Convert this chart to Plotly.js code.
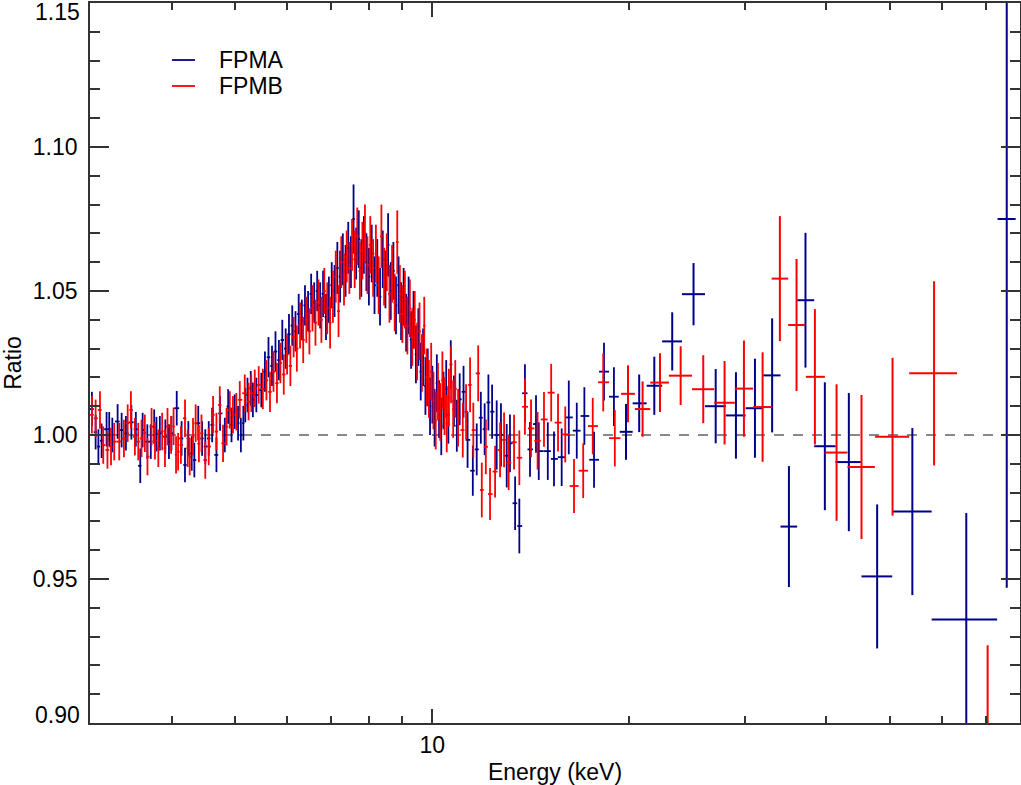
<!DOCTYPE html>
<html>
<head>
<meta charset="utf-8">
<script src="https://cdn.plot.ly/plotly-3.0.1.min.js"></script>
<style>
html,body{margin:0;padding:0;background:#fff;}
#chart{width:1021px;height:785px;}
</style>
</head>
<body>
<div id="chart"></div>
<script>
// ---------- FPMA (blue) finely binned, 3-19 keV ----------
const fpmaE = [
  3.02, 3.06, 3.09, 3.125, 3.18, 3.21, 3.245, 3.306, 3.353, 3.404,
  3.47, 3.525, 3.58, 3.61, 3.67, 3.715, 3.76, 3.79, 3.835, 3.91,
  3.96, 3.995, 4.07, 4.14, 4.19, 4.24, 4.29, 4.33, 4.39, 4.45,
  4.50, 4.555, 4.61, 4.68, 4.74, 4.82, 4.877, 4.935, 4.99, 5.05,
  5.10, 5.145, 5.18, 5.22, 5.28, 5.32, 5.385, 5.48, 5.55, 5.62,
  5.69, 5.76, 5.83, 5.90, 5.97, 6.04, 6.11, 6.18, 6.25, 6.32,
  6.39, 6.46, 6.53, 6.60, 6.67, 6.74, 6.81, 6.88, 6.95, 7.02,
  7.09, 7.16, 7.23, 7.30, 7.37, 7.44, 7.51, 7.58, 7.65, 7.72,
  7.79, 7.86, 7.93, 8.00, 8.08, 8.16, 8.24, 8.32, 8.40, 8.48,
  8.56, 8.64, 8.72, 8.80, 8.88, 8.96, 9.04, 9.12, 9.20, 9.28,
  9.36, 9.44, 9.52, 9.60, 9.68, 9.76, 9.84, 9.92, 10.00, 10.08,
  10.16, 10.24, 10.32, 10.40, 10.50, 10.58, 10.67, 10.79, 10.90, 11.01,
  11.16, 11.32, 11.53, 11.69, 11.86, 12.02, 12.18, 12.34, 12.54, 12.73,
  12.99, 13.14, 13.38, 13.58, 13.85, 14.10, 14.40, 14.54, 15.01, 15.34,
  15.76, 16.16, 16.62, 17.07, 17.66, 18.29, 18.94
];
const fpmaR = [
  1.009, 1.001, 0.996, 0.998, 1.002, 1.002, 1.000, 1.0047, 1.0017, 1.0006,
  1.0044, 1.002, 0.9893, 1.0017, 0.9977, 0.9977, 1.0029, 1.0003, 1.0006, 0.9994,
  0.9977, 1.0006, 1.0093, 0.9988, 0.9896, 0.9988, 0.9936, 0.9913, 1.0041, 0.9988,
  0.9960, 0.9988, 1.0035, 0.9931, 1.0075, 1.000, 1.0099, 1.0035, 1.0081, 1.0041,
  1.000, 1.0041, 1.0104, 1.0139, 1.0162, 1.0122, 1.0139, 1.0156, 1.022, 1.027,
  1.024, 1.029, 1.026, 1.033, 1.030, 1.035, 1.038, 1.036, 1.042, 1.040,
  1.045, 1.043, 1.049, 1.046, 1.050, 1.045, 1.049, 1.041, 1.047, 1.052,
  1.050, 1.058, 1.055, 1.061, 1.057, 1.065, 1.060, 1.075, 1.063, 1.068,
  1.058, 1.066, 1.060, 1.055, 1.063, 1.052, 1.058, 1.048, 1.061, 1.054,
  1.066, 1.050, 1.057, 1.045, 1.052, 1.043, 1.048, 1.039, 1.045, 1.033,
  1.040, 1.028, 1.034, 1.022, 1.027, 1.017, 1.020, 1.010, 1.014, 1.006,
  1.018, 1.009, 1.003, 1.012, 1.016, 1.007, 1.0245, 1.0118, 1.0032, 1.0124,
  1.015, 0.9983, 0.9876, 0.995, 1.006, 1.002, 1.0113, 1.0081, 1.000, 1.000,
  0.9928, 0.9971, 0.9763, 0.9684, 1.0145, 0.995, 1.0038, 0.9944, 0.9944, 0.9917,
  0.9923, 1.0061, 1.0015, 1.0066, 0.9914, 1.022, 1.0133
];
const fpmaErr = [
  0.006, 0.006, 0.006, 0.006, 0.006, 0.006, 0.006, 0.006, 0.006, 0.006,
  0.006, 0.006, 0.006, 0.006, 0.006, 0.006, 0.006, 0.006, 0.006, 0.006,
  0.006, 0.006, 0.006, 0.006, 0.006, 0.006, 0.006, 0.006, 0.006, 0.006,
  0.006, 0.006, 0.006, 0.006, 0.006, 0.006, 0.006, 0.006, 0.006, 0.006,
  0.006, 0.006, 0.006, 0.006, 0.006, 0.006, 0.006, 0.006, 0.007, 0.007,
  0.007, 0.007, 0.007, 0.007, 0.007, 0.007, 0.007, 0.007, 0.007, 0.007,
  0.007, 0.007, 0.007, 0.007, 0.007, 0.008, 0.008, 0.008, 0.008, 0.008,
  0.009, 0.009, 0.009, 0.009, 0.009, 0.009, 0.009, 0.012, 0.009, 0.010,
  0.010, 0.010, 0.010, 0.010, 0.010, 0.010, 0.010, 0.010, 0.010, 0.010,
  0.011, 0.010, 0.010, 0.010, 0.010, 0.010, 0.010, 0.010, 0.010, 0.010,
  0.010, 0.010, 0.010, 0.010, 0.010, 0.010, 0.010, 0.010, 0.010, 0.010,
  0.010, 0.010, 0.010, 0.010, 0.010, 0.010, 0.0084, 0.0089, 0.009, 0.009,
  0.009, 0.0097, 0.0087, 0.009, 0.009, 0.009, 0.0097, 0.0094, 0.012, 0.011,
  0.011, 0.010, 0.0093, 0.0095, 0.0101, 0.0095, 0.010, 0.010, 0.010, 0.0095,
  0.010, 0.0128, 0.0097, 0.010, 0.0097, 0.010, 0.0102
];

// ---------- FPMB (red) finely binned, 3-19 keV ----------
const fpmbE = [
  3.02, 3.06, 3.107, 3.143, 3.19, 3.23, 3.267, 3.325, 3.38, 3.425,
  3.464, 3.513, 3.555, 3.596, 3.638, 3.672, 3.725, 3.77, 3.815, 3.867,
  3.905, 3.94, 3.99, 4.025, 4.06, 4.09, 4.13, 4.19, 4.23, 4.26,
  4.31, 4.35, 4.40, 4.44, 4.50, 4.555, 4.625, 4.68, 4.735, 4.79,
  4.85, 4.905, 4.96, 5.02, 5.08, 5.17, 5.24, 5.29, 5.355, 5.43,
  5.51, 5.58, 5.65, 5.72, 5.79, 5.86, 5.93, 6.00, 6.07, 6.14,
  6.21, 6.28, 6.35, 6.42, 6.49, 6.56, 6.63, 6.70, 6.77, 6.84,
  6.91, 6.98, 7.05, 7.12, 7.19, 7.26, 7.33, 7.40, 7.47, 7.54,
  7.61, 7.68, 7.75, 7.82, 7.89, 7.96, 8.04, 8.12, 8.20, 8.28,
  8.36, 8.44, 8.52, 8.60, 8.68, 8.76, 8.84, 8.92, 9.00, 9.08,
  9.16, 9.24, 9.32, 9.40, 9.48, 9.56, 9.64, 9.72, 9.80, 9.88,
  9.96, 10.04, 10.12, 10.20, 10.28, 10.36, 10.44, 10.52, 10.60, 10.68,
  10.76, 10.84, 10.95, 11.13, 11.26, 11.42, 11.55, 11.75, 11.90, 12.07,
  12.25, 12.47, 12.69, 12.87, 13.08, 13.33, 13.58, 13.85, 14.15, 14.48,
  14.81, 15.19, 15.56, 15.96, 16.46, 17.00, 17.58, 18.24, 19.00
];
const fpmbR = [
  1.0070, 1.0058, 1.0087, 0.9965, 0.9948, 0.996, 0.9977, 0.9977, 0.9988, 1.0041,
  1.0087, 0.9994, 0.9977, 0.9988, 1.0006, 0.9925, 1.0029, 0.998, 0.9954, 1.0012,
  0.9954, 1.0029, 1.000, 1.003, 0.9931, 0.9942, 0.9965, 1.0058, 0.9954, 0.9925,
  0.9994, 1.0041, 0.997, 1.0006, 0.9913, 0.996, 1.007, 1.0012, 1.0104, 0.9971,
  1.0029, 1.0087, 1.007, 1.0081, 1.0122, 1.0145, 1.0116, 1.0145, 1.0162, 1.0174,
  1.016, 1.019, 1.015, 1.022, 1.018, 1.025, 1.021, 1.028, 1.024, 1.034,
  1.030, 1.038, 1.033, 1.040, 1.036, 1.044, 1.039, 1.046, 1.040, 1.050,
  1.044, 1.039, 1.048, 1.055, 1.043, 1.060, 1.054, 1.062, 1.058, 1.066,
  1.061, 1.069, 1.057, 1.064, 1.070, 1.059, 1.066, 1.058, 1.063, 1.052,
  1.069, 1.055, 1.060, 1.049, 1.056, 1.046, 1.067, 1.049, 1.042, 1.047,
  1.038, 1.044, 1.034, 1.040, 1.029, 1.036, 1.025, 1.038, 1.020, 1.016,
  1.022, 1.012, 1.005, 1.015, 1.008, 1.019, 1.010, 1.004, 1.013, 1.021,
  1.009, 1.016, 1.006, 1.0017, 1.0081, 1.0174, 1.0017, 1.0214, 0.9809, 0.9959,
  0.9795, 0.9873, 0.9948, 0.9983, 0.9904, 0.9975, 0.9921, 1.0098, 1.0023, 0.998,
  1.0054, 1.0147, 1.0043, 1.0002, 0.9823, 0.9876, 1.0031, 1.0183, 0.9989
];
const fpmbErr = [
  0.0065, 0.0065, 0.0065, 0.0065, 0.0065, 0.0065, 0.0065, 0.0065, 0.0065, 0.0065,
  0.0065, 0.0065, 0.0065, 0.0065, 0.0065, 0.0065, 0.0065, 0.0065, 0.0065, 0.0065,
  0.0065, 0.0065, 0.0065, 0.0065, 0.0065, 0.0065, 0.0065, 0.0065, 0.0065, 0.0065,
  0.0065, 0.0065, 0.0065, 0.0065, 0.0065, 0.0065, 0.0065, 0.0065, 0.0065, 0.0065,
  0.0065, 0.0065, 0.0065, 0.0065, 0.0065, 0.0065, 0.0065, 0.0065, 0.0065, 0.0065,
  0.007, 0.007, 0.007, 0.007, 0.007, 0.007, 0.007, 0.007, 0.007, 0.007,
  0.008, 0.008, 0.008, 0.008, 0.008, 0.008, 0.008, 0.008, 0.008, 0.008,
  0.009, 0.009, 0.009, 0.009, 0.009, 0.009, 0.009, 0.009, 0.009, 0.009,
  0.010, 0.010, 0.010, 0.010, 0.010, 0.010, 0.010, 0.010, 0.010, 0.010,
  0.011, 0.010, 0.010, 0.010, 0.010, 0.010, 0.011, 0.010, 0.010, 0.010,
  0.010, 0.010, 0.010, 0.010, 0.010, 0.010, 0.010, 0.010, 0.010, 0.010,
  0.010, 0.010, 0.010, 0.010, 0.010, 0.010, 0.010, 0.010, 0.010, 0.010,
  0.010, 0.010, 0.010, 0.0095, 0.0095, 0.0095, 0.0095, 0.0097, 0.0095, 0.0095,
  0.009, 0.009, 0.0095, 0.0095, 0.0095, 0.0095, 0.0095, 0.0097, 0.010, 0.010,
  0.0095, 0.010, 0.010, 0.0097, 0.0094, 0.0095, 0.0098, 0.0101, 0.0098
];

// ---------- coarse bins above ~19 keV (center, bin low, bin high, ratio, error) ----------
const fpmaHiE   = [19.76, 20.70, 21.83, 23.25, 25.06, 27.09, 29.09, 31.10, 33.04, 35.05, 37.15, 39.77, 43.27, 47.80, 54.10, 65.40, 75.40];
const fpmaHiLo  = [19.33, 20.23, 21.25, 22.44, 24.06, 26.09, 28.08, 30.10, 32.02, 34.03, 36.08, 38.31, 41.30, 45.24, 50.40, 57.90, 73.00];
const fpmaHiHi  = [20.23, 21.25, 22.44, 24.06, 26.09, 28.08, 30.10, 32.02, 34.03, 36.08, 38.31, 41.30, 45.13, 50.40, 57.90, 72.90, 77.80];
const fpmaHiR   = [1.0011, 1.011, 1.0171, 1.0325, 1.0489, 1.010, 1.0068, 1.0093, 1.0207, 0.9682, 1.0468, 0.9961, 0.9906, 0.9509, 0.9734, 0.9359, 1.075];
const fpmaHiErr = [0.0097, 0.010, 0.0101, 0.0101, 0.0108, 0.0129, 0.015, 0.0172, 0.0198, 0.021, 0.0234, 0.0222, 0.024, 0.025, 0.029, 0.037, 0.128];

const fpmbHiE   = [19.90, 20.95, 22.27, 23.95, 25.93, 27.95, 29.92, 31.95, 33.95, 36.00, 38.40, 41.44, 45.24, 50.46, 58.40, 70.50];
const fpmbHiLo  = [19.42, 20.39, 21.52, 22.98, 24.92, 26.95, 28.98, 30.90, 32.98, 34.96, 37.20, 39.77, 43.07, 47.46, 53.50, 63.30];
const fpmbHiHi  = [20.39, 21.52, 22.98, 24.92, 26.95, 28.98, 30.90, 32.98, 34.96, 37.12, 39.77, 43.07, 47.42, 53.50, 63.30, 78.00];
const fpmbHiR   = [1.0143, 1.009, 1.0182, 1.0206, 1.0159, 1.0112, 1.0161, 1.0097, 1.0543, 1.0382, 1.0202, 0.9939, 0.9889, 0.9994, 1.0214, 0.872];
const fpmbHiErr = [0.0099, 0.0096, 0.0102, 0.0102, 0.0118, 0.0145, 0.0167, 0.019, 0.0217, 0.0229, 0.0235, 0.0237, 0.025, 0.0274, 0.032, 0.055];

const seriesNames = ['FPMA', 'FPMB'];
const seriesColors = ['#00008b', '#ff0000'];
const yMajor = [0.90, 0.95, 1.00, 1.05, 1.10, 1.15];
const yMajorText = ['', '0.95', '1.00', '1.05', '1.10', ''];
const xMajor = [10];
const xMajorText = ['10'];
const xMinor = [3, 4, 5, 6, 7, 8, 9, 20, 30, 40, 50, 60, 70];
const yMinor = [0.91,0.92,0.93,0.94,0.96,0.97,0.98,0.99,1.01,1.02,1.03,1.04,1.06,1.07,1.08,1.09,1.11,1.12,1.13,1.14];

// contiguous bins: edges half-way between neighbouring channel centres
function binHalfWidths(E) {
  const n = E.length, plus = [], minus = [];
  for (let i = 0; i < n; i++) {
    const hi = i < n - 1 ? (E[i] + E[i + 1]) / 2 : null;
    const lo = i > 0 ? (E[i - 1] + E[i]) / 2 : null;
    const p = hi !== null ? hi - E[i] : E[i] - lo;
    const m = lo !== null ? E[i] - lo : hi - E[i];
    plus.push(p); minus.push(m);
  }
  return {plus, minus};
}

const hiddenMarker = (c) => ({size: 1, opacity: 0, color: c});

function denseTrace(E, R, err, idx) {
  const hw = binHalfWidths(E);
  return {
    type: 'scatter', mode: 'markers', x: E, y: R, name: seriesNames[idx],
    showlegend: false, hoverinfo: 'x+y',
    marker: hiddenMarker(seriesColors[idx]),
    error_y: {type: 'data', array: err, symmetric: true, color: seriesColors[idx], thickness: 1.8, width: 0},
    error_x: {type: 'data', array: hw.plus, arrayminus: hw.minus, symmetric: false, color: seriesColors[idx], thickness: 1.8, width: 0}
  };
}
function coarseTrace(E, lo, hi, R, err, idx) {
  return {
    type: 'scatter', mode: 'markers', x: E, y: R, name: seriesNames[idx],
    showlegend: false, hoverinfo: 'x+y',
    marker: hiddenMarker(seriesColors[idx]),
    error_y: {type: 'data', array: err, symmetric: true, color: seriesColors[idx], thickness: 2, width: 0},
    error_x: {type: 'data', array: E.map((e, i) => hi[i] - e), arrayminus: E.map((e, i) => e - lo[i]),
              symmetric: false, color: seriesColors[idx], thickness: 2, width: 0}
  };
}

const traces = [
  denseTrace(fpmaE, fpmaR, fpmaErr, 0),
  coarseTrace(fpmaHiE, fpmaHiLo, fpmaHiHi, fpmaHiR, fpmaHiErr, 0),
  denseTrace(fpmbE, fpmbR, fpmbErr, 1),
  coarseTrace(fpmbHiE, fpmbHiLo, fpmbHiHi, fpmbHiR, fpmbHiErr, 1)
];

const FONT = 'Liberation Sans, Arial, Helvetica, sans-serif';

const layout = {
  width: 1021, height: 785,
  margin: {l: 90, r: 1, t: 3, b: 62},
  paper_bgcolor: '#fff', plot_bgcolor: '#fff',
  font: {family: FONT, size: 23, color: '#000'},
  showlegend: false,
  xaxis: {
    type: 'log', range: [Math.log10(3), Math.log10(79)],
    tickmode: 'array', tickvals: xMajor, ticktext: xMajorText,
    ticks: 'inside', ticklen: 14, tickwidth: 1.5, tickcolor: '#333',
    minor: {tickvals: xMinor, ticks: 'inside', ticklen: 7, tickwidth: 1.5, tickcolor: '#333', showgrid: false},
    showline: true, linecolor: '#333', linewidth: 1.8, mirror: 'ticks',
    showgrid: false, zeroline: false,
    ticklabelstandoff: 0,
    title: {text: 'Energy (keV)', font: {size: 23, family: FONT}, standoff: 16}
  },
  yaxis: {
    range: [0.90, 1.15],
    tickmode: 'array', tickvals: yMajor, ticktext: yMajorText,
    ticks: 'inside', ticklen: 19, tickwidth: 1.5, tickcolor: '#333',
    minor: {tickvals: yMinor, ticks: 'inside', ticklen: 10, tickwidth: 1.5, tickcolor: '#333', showgrid: false},
    showline: true, linecolor: '#333', linewidth: 1.8, mirror: 'ticks',
    showgrid: false, zeroline: false,
    ticklabelstandoff: 6,
    title: {text: 'Ratio', font: {size: 23, family: FONT}, standoff: 18}
  },
  shapes: [
    {type: 'line', xref: 'paper', yref: 'y', x0: 0, x1: 1, y0: 1.0, y1: 1.0,
     line: {color: '#888', width: 2.2, dash: '10px,9px'}, layer: 'below'},
    {type: 'line', xref: 'paper', yref: 'paper', x0: 0.0882, x1: 0.1129, y0: 0.9208, y1: 0.9208,
     line: {color: seriesColors[0], width: 1.8}},
    {type: 'line', xref: 'paper', yref: 'paper', x0: 0.0882, x1: 0.1129, y0: 0.8847, y1: 0.8847,
     line: {color: seriesColors[1], width: 1.8}}
  ],
  annotations: [
    {xref: 'paper', yref: 'paper', x: 0.1366, y: 0.9208, xanchor: 'left', yanchor: 'middle',
     text: seriesNames[0], showarrow: false, font: {size: 23, family: FONT}},
    {xref: 'paper', yref: 'paper', x: 0.1366, y: 0.8847, xanchor: 'left', yanchor: 'middle',
     text: seriesNames[1], showarrow: false, font: {size: 23, family: FONT}},
    {xref: 'paper', yref: 'y', x: 0, y: 1.15, xanchor: 'right', yanchor: 'middle', xshift: -8, yshift: -9,
     text: '1.15', showarrow: false, font: {size: 23, family: FONT}},
    {xref: 'paper', yref: 'y', x: 0, y: 0.90, xanchor: 'right', yanchor: 'middle', xshift: -8, yshift: 8,
     text: '0.90', showarrow: false, font: {size: 23, family: FONT}}
  ]
};

Plotly.newPlot('chart', traces, layout, {displayModeBar: false, responsive: false});
</script>
</body>
</html>
